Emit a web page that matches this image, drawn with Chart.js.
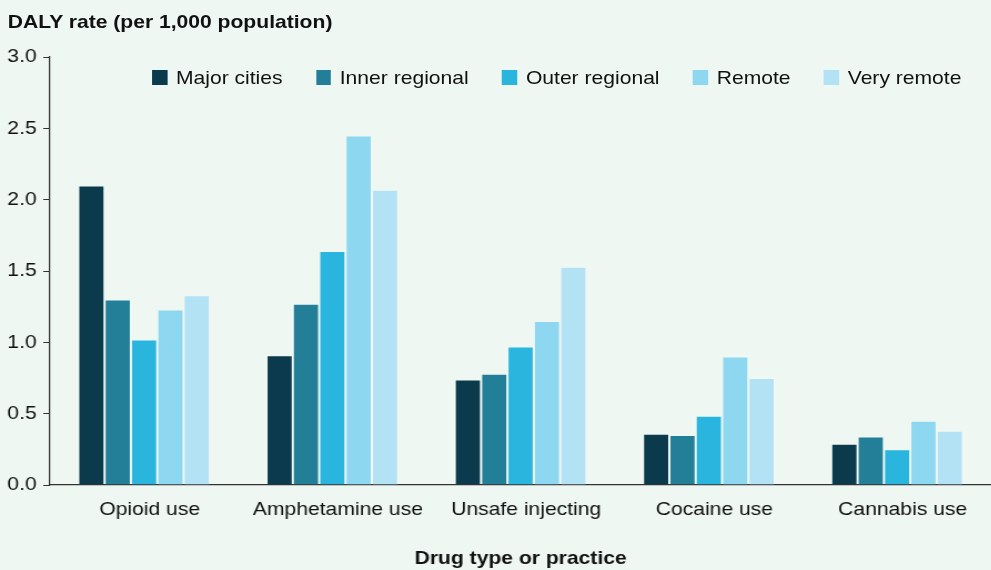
<!DOCTYPE html>
<html>
<head>
<meta charset="utf-8">
<script src="https://cdn.jsdelivr.net/npm/chart.js@4.4.1/dist/chart.umd.min.js"></script>
<style>
    html, body { margin: 0; padding: 0; background: #eef7f2; overflow: hidden; }
    /* chart is laid out narrow and stretched sideways, like the source image */
    #wrap {
        position: relative;
        width: 893px;
        height: 570px;
        transform: scaleX(1.11);
        transform-origin: 0 0;
        font-family: "Liberation Sans", Arial, sans-serif;
        color: #111;
    }
    #yTitle {
        position: absolute; left: 7px; top: 12px;
        font-size: 19px; line-height: 19px; font-weight: bold;
        white-space: nowrap;
    }
    #legend {
        position: absolute; left: 137px; top: 68px;
        display: flex; align-items: center;
        font-size: 19px; line-height: 19px;
        white-space: nowrap;
    }
    #legend .item { display: flex; align-items: center; margin-right: 30px; }
    #legend .box { width: 13.5px; height: 15px; margin-right: 8px; flex: none; }
</style>
</head>
<body>
<div id="wrap">
    <canvas id="chart"></canvas>
    <div id="yTitle">DALY rate (per 1,000 population)</div>
    <div id="legend"></div>
</div>
<script>
// --- Data ---
const categories = ['Opioid use', 'Amphetamine use', 'Unsafe injecting', 'Cocaine use', 'Cannabis use'];
const seriesNames = ['Major cities', 'Inner regional', 'Outer regional', 'Remote', 'Very remote'];
const majorCities   = [2.10, 0.91, 0.74, 0.36, 0.29];
const innerRegional = [1.30, 1.27, 0.78, 0.35, 0.34];
const outerRegional = [1.02, 1.64, 0.97, 0.485, 0.25];
const remote        = [1.23, 2.45, 1.15, 0.90, 0.45];
const veryRemote    = [1.33, 2.07, 1.53, 0.75, 0.38];
const yTicks = [0, 0.5, 1.0, 1.5, 2.0, 2.5, 3.0];

const colors = ['#0b3a4c', '#237e97', '#29b5de', '#8dd7f0', '#b3e2f4'];
const values = [majorCities, innerRegional, outerRegional, remote, veryRemote];

// HTML legend (sits inside the plot area)
const legendEl = document.getElementById('legend');
seriesNames.forEach((name, i) => {
    const item = document.createElement('div');
    item.className = 'item';
    item.innerHTML = `<span class="box" style="background:${colors[i]}"></span><span>${name}</span>`;
    legendEl.appendChild(item);
});

const FONT = '"Liberation Sans", Arial, sans-serif';
const TEXT = '#111';

new Chart(document.getElementById('chart').getContext('2d'), {
    type: 'bar',
    data: {
        labels: categories,
        datasets: seriesNames.map((name, i) => ({
            label: name,
            data: values[i],
            backgroundColor: colors[i],
            borderColor: 'rgba(255,255,255,0.2)',
            borderWidth: 1,
            borderSkipped: 'bottom',
            barPercentage: 1.0,
            categoryPercentage: 0.7
        }))
    },
    options: {
        responsive: true,
        maintainAspectRatio: false,
        animation: false,
        layout: { padding: { top: 57, left: 0, right: 0, bottom: 0 } },
        plugins: {
            legend: { display: false },
            tooltip: { enabled: false }
        },
        scales: {
            x: {
                grid: { display: false, drawTicks: false },
                border: { display: true, color: '#333', width: 1.2 },
                ticks: {
                    color: TEXT,
                    font: { family: FONT, size: 19 },
                    padding: 13,
                    labelOffset: 5
                },
                title: {
                    display: true,
                    text: 'Drug type or practice',
                    color: TEXT,
                    font: { family: FONT, size: 19, weight: 'bold' },
                    padding: { top: 0, bottom: 0 }
                },
                afterFit(scale) { scale.height = 85; }
            },
            y: {
                min: 0,
                max: 3,
                afterBuildTicks(scale) {
                    scale.ticks = yTicks.map(v => ({ value: v }));
                },
                grid: {
                    drawOnChartArea: false,
                    drawTicks: true,
                    tickLength: 6,
                    color: '#333'
                },
                border: { display: true, color: '#333', width: 1.2 },
                ticks: {
                    color: TEXT,
                    font: { family: FONT, size: 19 },
                    padding: 6,
                    callback: v => Number(v).toFixed(1)
                },
                afterFit(scale) { scale.width = 45; }
            }
        }
    }
});
</script>
</body>
</html>
